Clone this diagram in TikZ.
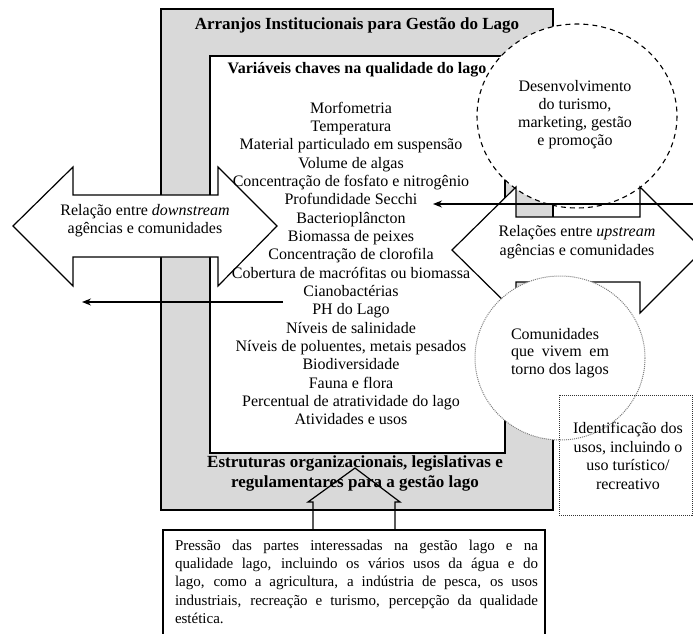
\documentclass[tikz,border=0pt]{standalone}
\usepackage{fontspec}
\setmainfont{Liberation Serif}
\usetikzlibrary{arrows.meta}
\definecolor{boxgray}{HTML}{D9D9D9}
\begin{document}
\begin{tikzpicture}[x=1pt,y=-1pt,
  every node/.style={inner sep=0pt, outer sep=0pt},
  txt/.style={font=\fontsize{16}{18.5}\selectfont, align=center},
  boldtxt/.style={font=\fontsize{17}{20}\selectfont\bfseries, align=center},
  shapeline/.style={draw=black, line width=1.2pt},
  blockarrow/.style={shapeline, fill=white, line join=miter},
  thinarrow/.style={draw=black, line width=1.2pt, -{Stealth[length=9pt,width=7pt]}}]
\clip (0,0) rectangle (693,634);
% outer grey frame
\draw[shapeline, fill=boxgray] (161,9) rectangle (553,510);
% inner white box
\draw[shapeline, fill=white] (210,56) rectangle (505,453);
\node[boldtxt] (title) at (357,25) {Arranjos Institucionais para Gestão do Lago};
\node[boldtxt, font=\fontsize{16}{19}\selectfont\bfseries] (vars) at (357,70) {Variáveis chaves na qualidade do lago};
% dashed ellipse
\draw[draw=black, line width=1.1pt, dash pattern=on 5pt off 4pt, fill=white] (577,116) ellipse [x radius=100, y radius=92];
\node[txt, font=\fontsize{16}{18}\selectfont] (tur) at (575,115) {Desenvolvimento\\do turismo,\\marketing, gestão\\e promoção};
% left double arrow
\draw[blockarrow] (13,226) -- (73,167) -- (73,195) -- (218,195) -- (218,167) -- (277,226)
  -- (218,286) -- (218,257) -- (73,257) -- (73,286) -- cycle;
\node[txt, font=\fontsize{16}{18}\selectfont] (down) at (145,221) {Relação entre \textit{downstream}\\agências e comunidades};
% right double arrow
\draw[blockarrow] (452,250) -- (516,187) -- (516,217) -- (640,217) -- (640,187) -- (703,250)
  -- (640,313) -- (640,282) -- (516,282) -- (516,313) -- cycle;
\node[txt, font=\fontsize{16}{19}\selectfont] (up) at (577,242) {Relações entre \textit{upstream}\\agências e comunidades};
% dotted circle
\draw[draw=gray, line width=1pt, densely dotted, fill=white] (560,358) ellipse [x radius=85, y radius=82];
\node[font=\fontsize{16}{17.5}\selectfont, text width=98pt, align=justify] (com) at (560,353)
  {Comunidades\\que vivem em\linebreak torno dos lagos};
% dotted box
\draw[draw=black!80, line width=1pt, densely dotted] (559,395) rectangle (692,515);
\node[txt] (ident) at (628,456) {Identificação dos\\usos, incluindo o\\uso turístico/\\recreativo};
% list
\foreach \t [count=\i] in {Morfometria, Temperatura, Material particulado em suspensão,
  Volume de algas, Concentração de fosfato e nitrogênio, Profundidade Secchi,
  Bacterioplâncton, Biomassa de peixes, Concentração de clorofila,
  Cobertura de macrófitas ou biomassa, Cianobactérias, PH do Lago,
  Níveis de salinidade, {Níveis de poluentes, metais pesados}, Biodiversidade,
  Fauna e flora, Percentual de atratividade do lago, Atividades e usos}
  \node[font=\fontsize{16}{18}\selectfont, anchor=base] (item\i) at (351,{113+18.35*(\i-1)}) {\t};
% bottom heading
\node[boldtxt] (estr) at (355,473) {Estruturas organizacionais, legislativas e\\regulamentares para a gestão lago};
% bottom box
\draw[shapeline, fill=white] (163,530) rectangle (545,660);
\node[anchor=north west, text width=363pt, align=justify, font=\fontsize{15}{18.2}\selectfont] (press) at (175,540)
  {Pressão das partes interessadas na gestão lago e na\linebreak
   qualidade lago, incluindo os vários usos da água e do\linebreak
   lago, como a agricultura, a indústria de pesca, os usos\linebreak
   industriais, recreação e turismo, percepção da qualidade\linebreak
   estética.};
% up block arrow (outline)
\draw[shapeline, line join=miter] (313,530) -- (313,502) -- (308,502) -- (355,468) -- (400,502) -- (395,502) -- (395,530);
% thin arrows
\coordinate (secR) at (693,204);
\coordinate (secL) at (433,204);
\draw[thinarrow] (secR) -- (secL);
\coordinate (cyR) at (283,302);
\coordinate (cyL) at (82,302);
\draw[thinarrow] (cyR) -- (cyL);
\end{tikzpicture}
\end{document}
